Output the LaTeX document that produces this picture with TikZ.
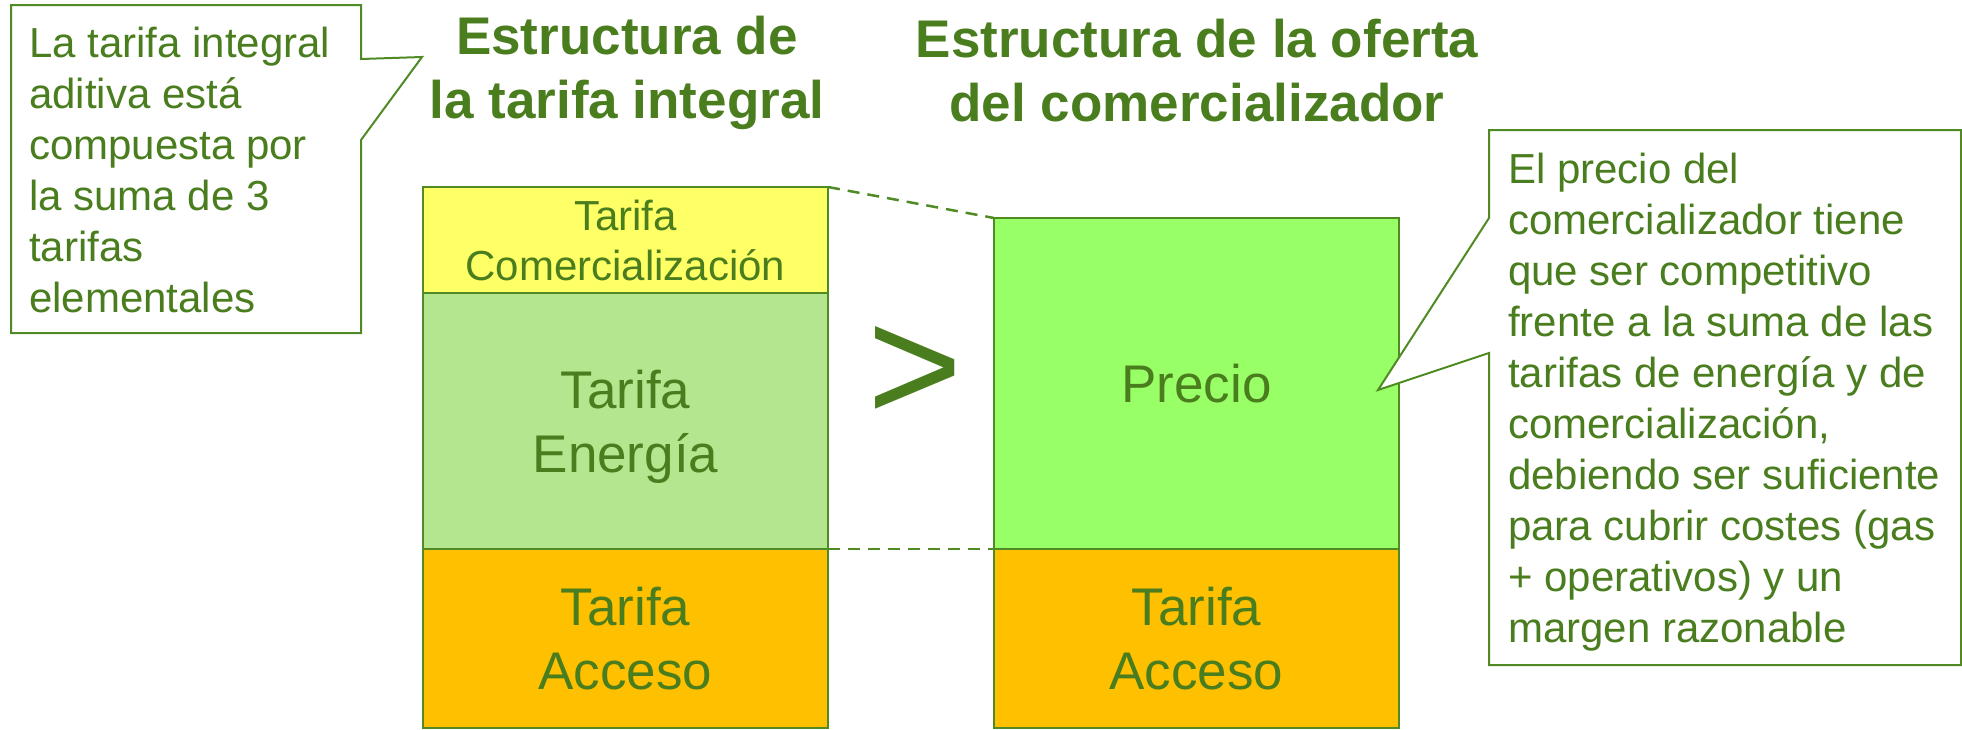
\documentclass[tikz,border=0pt]{standalone}
\usepackage{fontspec}
\setmainfont{Liberation Sans}
\usepackage{tikz}
\usetikzlibrary{positioning}
\definecolor{verde}{HTML}{4A7D1E}
\definecolor{borde}{HTML}{4F8A24}
\definecolor{amarillo}{HTML}{FFFF66}
\definecolor{verdeclaro}{HTML}{B3E68F}
\definecolor{verdeprecio}{HTML}{99FF66}
\definecolor{naranja}{HTML}{FFC000}

\begin{document}
\begin{tikzpicture}[x=1pt,y=-1pt,
    caja/.style={draw=borde, line width=2.5pt, minimum width=405pt, outer sep=0pt, inner sep=0pt,
                 text=verde, align=center, text depth=0pt, font=\fontsize{53}{64}\selectfont},
    texto/.style={text=verde, align=left, inner sep=0pt, font=\fontsize{42}{51}\selectfont},
    titulo/.style={text=verde, align=center, inner sep=0pt, font=\bfseries\fontsize{53}{64}\selectfont},
    globo/.style={draw=borde, line width=2pt, fill=white, line join=miter},
    trazo/.style={draw=borde, line width=2.5pt, dash pattern=on 12pt off 8pt}]
\useasboundingbox (0,0) rectangle (1962,729);

\node[titulo, anchor=north] (tit1) at (627,16) {Estructura de\\la tarifa integral};
\node[titulo, anchor=north] (tit2) at (1197,19) {Estructura de la oferta\\del comercializador};

\node[caja, fill=amarillo, minimum height=106pt, font=\fontsize{42}{50}\selectfont] (com) at (625.5,240) {Tarifa\\Comercialización};
\node[caja, fill=verdeclaro, minimum height=256pt, below=0pt of com] (ene) {Tarifa\\Energía};
\node[caja, fill=naranja, minimum height=179pt, below=0pt of ene] (accL) {Tarifa\\Acceso};

\node[caja, fill=verdeprecio, minimum height=331pt] (precio) at (1196.5,383.5) {Precio};
\node[caja, fill=naranja, minimum height=179pt, below=0pt of precio] (accR) {Tarifa\\Acceso};

\draw[trazo] (com.north east) -- (precio.north west);
\draw[trazo] (ene.south east) -- (precio.south west);

\node[text=verde, inner sep=0pt, font=\fontsize{163}{163}\selectfont] (mayor) at (915,374) {>};

\draw[globo] (11,5) -- (361,5) -- (361,59) -- (422,57) -- (361,140) -- (361,333) -- (11,333) -- cycle;
\node[texto, anchor=north west] (nota1) at (29,27) {La tarifa integral\\aditiva está\\compuesta por\\la suma de 3\\tarifas\\elementales};

\draw[globo] (1489,130) -- (1961,130) -- (1961,665) -- (1489,665) -- (1489,353) -- (1378,390) -- (1489,218) -- cycle;
\node[texto, anchor=north west] (nota2) at (1508,153) {El precio del\\comercializador tiene\\que ser competitivo\\frente a la suma de las\\tarifas de energía y de\\comercialización,\\debiendo ser suficiente\\para cubrir costes (gas\\+ operativos) y un\\margen razonable};
\end{tikzpicture}
\end{document}
